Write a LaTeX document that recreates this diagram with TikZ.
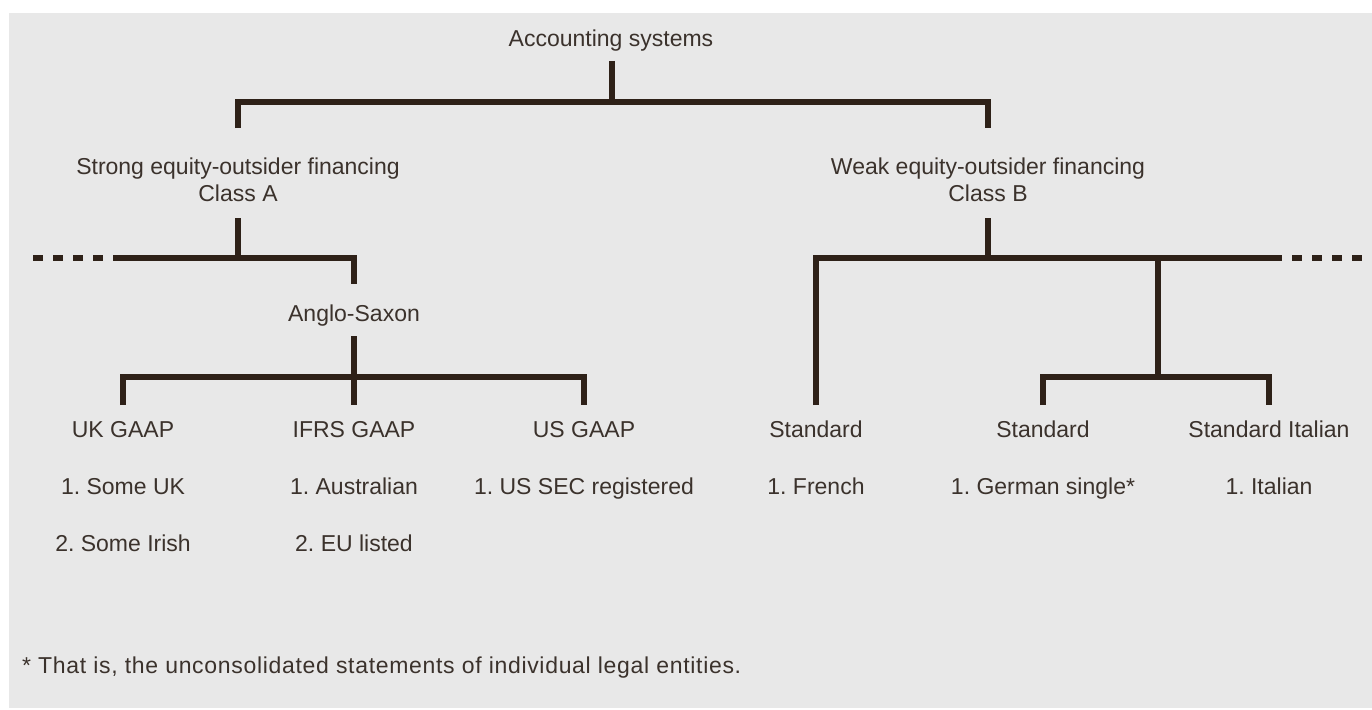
\documentclass[tikz,border=0pt]{standalone}
\usepackage{fontspec}
\setmainfont{Liberation Sans}
\usetikzlibrary{positioning,calc}
\frenchspacing
\definecolor{panel}{HTML}{E8E8E8}
\definecolor{ink}{HTML}{2E2118}
\definecolor{txt}{HTML}{3B322C}
\tikzset{
  lbl/.style={font=\fontsize{23}{27}\selectfont, text=txt, inner sep=0pt, align=center},
  bar/.style={draw=ink, line width=5.5pt, line join=miter},
  dots/.style={bar, dash pattern=on 10pt off 10pt}
}

\begin{document}
\begin{tikzpicture}[x=1pt,y=-1pt]
\useasboundingbox (0,0) rectangle (1372,709);
\fill[white] (0,0) rectangle (1372,709);
\fill[panel] (9,13) rectangle (1372,708);

% top levels
\node[lbl,anchor=base] (root) at (611,47) {Accounting systems};
\node[lbl,anchor=north] (classA) at (238,158) {Strong equity-outsider financing\\Class A};
\node[lbl,anchor=north] (classB) at (988,158) {Weak equity-outsider financing\\Class B};
\node[lbl,anchor=base] (anglo) at (354,321) {Anglo-Saxon};

% leaves
\node[lbl,anchor=base] (uk) at (123,437) {UK GAAP};
\node[lbl,anchor=base] (ifrs) at (354,437) {IFRS GAAP};
\node[lbl,anchor=base] (us) at (584,437) {US GAAP};
\node[lbl,anchor=base] (fr) at (816,437) {Standard};
\node[lbl,anchor=base] (de) at (1043,437) {Standard};
\node[lbl,anchor=base] (it) at (1269,437) {Standard Italian};

% members
\node[lbl,anchor=base] (uk1) at ([yshift=-57pt]uk.base) {1. Some UK};
\node[lbl,anchor=base] (uk2) at ([yshift=-57pt]uk1.base) {2. Some Irish};
\node[lbl,anchor=base] (ifrs1) at ([yshift=-57pt]ifrs.base) {1. Australian};
\node[lbl,anchor=base] (ifrs2) at ([yshift=-57pt]ifrs1.base) {2. EU listed};
\node[lbl,anchor=base] (us1) at ([yshift=-57pt]us.base) {1. US SEC registered};
\node[lbl,anchor=base] (fr1) at ([yshift=-57pt]fr.base) {1. French};
\node[lbl,anchor=base] (de1) at ([yshift=-57pt]de.base) {1. German single*};
\node[lbl,anchor=base] (it1) at ([yshift=-57pt]it.base) {1. Italian};

\node[lbl,anchor=base west] (note) at (22,673)
  {\addfontfeatures{LetterSpace=3}* That is, the unconsolidated statements of individual legal entities.};

% junctions
\coordinate (top) at (612,102);
\coordinate (jA) at (238,258);
\coordinate (dashA) at (33,258);
\coordinate (solidA) at (113,258);
\coordinate (jS) at (354,377);
\coordinate (jB) at (988,258);
\coordinate (jG) at (1158,258);
\coordinate (jGI) at (1158,377);
\coordinate (solidB) at (1272,258);
\coordinate (dashB) at (1363,258);

% connectors
\draw[bar] ([yshift=-14pt]root.base -| top) -- (top);
\draw[bar] ([yshift=30pt]classA.north) |- (top) -| ([yshift=30pt]classB.north);

\draw[bar] ([yshift=-16pt]classA.south) -- (jA);
\draw[dots] (dashA) -- (solidA);
\draw[bar] (solidA) -| ([yshift=20pt]anglo.north);
\draw[bar] ([yshift=-15pt]anglo.base) -- ([yshift=32pt]ifrs.base);
\draw[bar] ([yshift=32pt]uk.base) |- (jS) -| ([yshift=32pt]us.base);

\draw[bar] ([yshift=-16pt]classB.south) -- (jB);
\draw[bar] ([yshift=32pt]fr.base) |- (solidB);
\draw[dots] (solidB) -- (dashB);
\draw[bar] (jG) -- (jGI);
\draw[bar] ([yshift=32pt]de.base) |- (jGI) -| ([yshift=32pt]it.base);
\end{tikzpicture}
\end{document}
